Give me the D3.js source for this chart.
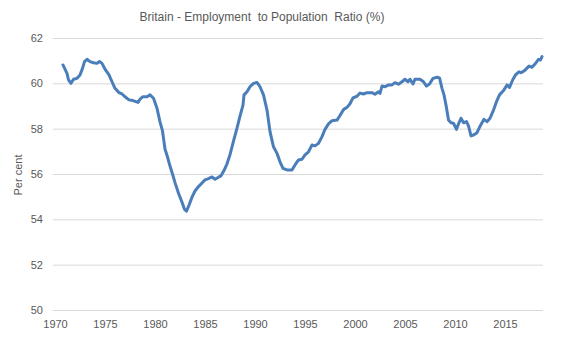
<!DOCTYPE html>
<html>
<head>
<meta charset="utf-8">
<script src="https://cdn.jsdelivr.net/npm/d3@7"></script>
<style>
  html, body { margin: 0; padding: 0; background: #fff; }
  svg { display: block; font-family: "Liberation Sans", Arial, sans-serif; }
</style>
</head>
<body>
<svg id="chart" width="567" height="340"></svg>
<script>
// Britain: employment to population ratio, per cent (decimal year, value)
const periods = [
  1971.0, 1971.4, 1971.55, 1971.8, 1972.05, 1972.4, 1972.7, 1972.95, 1973.15, 1973.4,
  1973.7, 1974.05, 1974.4, 1974.65, 1974.9, 1975.25, 1975.6, 1975.9, 1976.2, 1976.6,
  1976.9, 1977.2, 1977.6, 1978.0, 1978.5, 1978.7, 1979.0, 1979.4, 1979.7, 1980.05,
  1980.4, 1980.7, 1980.95, 1981.2, 1981.45, 1981.7, 1981.95, 1982.2, 1982.55, 1982.9,
  1983.15, 1983.35, 1983.6, 1983.9, 1984.2, 1984.5, 1984.9, 1985.2, 1985.55, 1985.9,
  1986.2, 1986.55, 1986.8, 1987.1, 1987.4, 1987.7, 1988.05, 1988.4, 1988.7, 1989.0,
  1989.1, 1989.4, 1989.7, 1990.05, 1990.4, 1990.7, 1991.05, 1991.4, 1991.7, 1992.05,
  1992.4, 1992.7, 1993.0, 1993.4, 1993.9, 1994.2, 1994.55, 1994.9, 1995.2, 1995.55,
  1995.9, 1996.2, 1996.55, 1996.9, 1997.2, 1997.55, 1997.9, 1998.4, 1998.7, 1999.05,
  1999.4, 1999.7, 2000.0, 2000.4, 2000.7, 2001.05, 2001.4, 2001.9, 2002.2, 2002.55,
  2002.7, 2002.9, 2003.2, 2003.55, 2003.9, 2004.2, 2004.55, 2004.9, 2005.2, 2005.5,
  2005.7, 2006.0, 2006.2, 2006.7, 2007.05, 2007.35, 2007.65, 2008.0, 2008.4, 2008.65,
  2008.9, 2009.1, 2009.3, 2009.55, 2009.8, 2010.05, 2010.35, 2010.55, 2010.8, 2011.05,
  2011.35, 2011.55, 2011.8, 2012.05, 2012.4, 2012.65, 2012.9, 2013.1, 2013.4, 2013.7,
  2014.05, 2014.35, 2014.65, 2015.05, 2015.4, 2015.65, 2016.0, 2016.25, 2016.6, 2016.8,
  2017.15, 2017.6, 2017.9, 2018.25, 2018.55, 2018.75, 2018.9
];
const ratio = [
  60.81, 60.44, 60.15, 60.00, 60.18, 60.22, 60.37, 60.66, 60.96, 61.06,
  60.96, 60.91, 60.88, 60.96, 60.88, 60.59, 60.37, 60.07, 59.78, 59.59,
  59.53, 59.41, 59.27, 59.24, 59.16, 59.30, 59.41, 59.41, 59.49, 59.34,
  58.90, 58.30, 57.90, 57.10, 56.75, 56.35, 56.00, 55.62, 55.15, 54.75,
  54.44, 54.36, 54.62, 54.98, 55.25, 55.42, 55.60, 55.74, 55.80, 55.87,
  55.77, 55.86, 55.92, 56.15, 56.45, 56.85, 57.45, 58.02, 58.55, 59.04,
  59.49, 59.63, 59.85, 60.00, 60.04, 59.85, 59.49, 58.82, 57.87, 57.20,
  56.91, 56.54, 56.25, 56.18, 56.18, 56.40, 56.62, 56.65, 56.84, 56.98,
  57.28, 57.24, 57.35, 57.65, 57.97, 58.21, 58.35, 58.38, 58.58, 58.84,
  58.94, 59.10, 59.36, 59.43, 59.57, 59.53, 59.59, 59.59, 59.52, 59.63,
  59.56, 59.88, 59.85, 59.93, 59.93, 60.03, 59.96, 60.07, 60.18, 60.07,
  60.18, 59.97, 60.18, 60.18, 60.07, 59.88, 59.97, 60.22, 60.27, 60.24,
  59.78, 59.49, 59.04, 58.38, 58.26, 58.24, 57.97, 58.21, 58.46, 58.26,
  58.31, 58.12, 57.68, 57.72, 57.82, 58.06, 58.26, 58.41, 58.31, 58.46,
  58.82, 59.19, 59.49, 59.68, 59.93, 59.82, 60.18, 60.37, 60.51, 60.47,
  60.56, 60.76, 60.71, 60.88, 61.06, 61.03, 61.18
];
const yTicks = [50, 52, 54, 56, 58, 60, 62];
const xTicks = [1970, 1975, 1980, 1985, 1990, 1995, 2000, 2005, 2010, 2015];

const titleText = "Britain - Employment  to Population  Ratio (%)";
const yAxisTitle = "Per cent";

const margin = { left: 53, right: 24, top: 38, bottom: 30 };
const W = 567, H = 340;

const svg = d3.select("#chart");

const x = d3.scaleLinear().domain([1970, 2019]).range([margin.left, W - margin.right]);
const y = d3.scaleLinear().domain([50, 62]).range([H - margin.bottom, margin.top]);

const textColor = "#595959";

// horizontal gridlines with value labels
svg.append("g")
  .attr("transform", `translate(${margin.left},0)`)
  .call(d3.axisLeft(y).tickValues(yTicks).tickSize(-(W - margin.left - margin.right)).tickFormat(d => d).tickPadding(10))
  .call(g => g.select(".domain").remove())
  .call(g => g.selectAll(".tick line").attr("stroke", "#d9d9d9").attr("stroke-width", 1))
  .call(g => g.selectAll(".tick text").attr("fill", textColor).attr("font-size", 11));

// x axis labels (no tick marks)
svg.append("g")
  .attr("transform", `translate(2,${H - margin.bottom})`)
  .call(d3.axisBottom(x).tickValues(xTicks).tickSize(0).tickFormat(d3.format("d")).tickPadding(10))
  .call(g => g.select(".domain").remove())
  .call(g => g.selectAll(".tick text").attr("fill", textColor).attr("font-size", 11));

// series line
const series = periods.map((p, i) => ({ t: p, v: ratio[i] }));
svg.append("path")
  .datum(series)
  .attr("fill", "none")
  .attr("stroke", "#4a7ebb")
  .attr("stroke-width", 3)
  .attr("stroke-linejoin", "round")
  .attr("stroke-linecap", "round")
  .attr("d", d3.line().x(d => x(d.t)).y(d => y(d.v)));

// title
svg.append("text")
  .attr("x", 262).attr("y", 21)
  .attr("text-anchor", "middle")
  .attr("fill", textColor)
  .attr("font-size", 12)
  .style("white-space", "pre")
  .attr("xml:space", "preserve")
  .text(titleText);

// y axis title
svg.append("text")
  .attr("transform", `translate(22,175) rotate(-90)`)
  .attr("text-anchor", "middle")
  .attr("fill", textColor)
  .attr("font-size", 11)
  .text(yAxisTitle);
</script>
</body>
</html>
